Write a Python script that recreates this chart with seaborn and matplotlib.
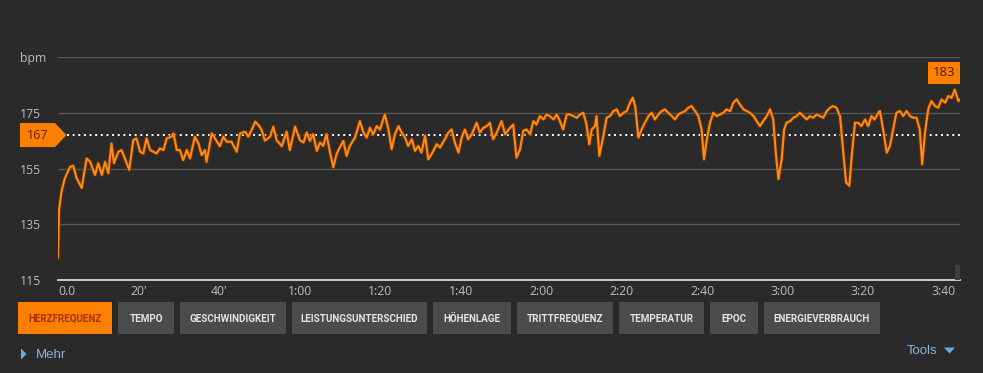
import matplotlib
matplotlib.use("Agg")
import matplotlib.pyplot as plt
import matplotlib.patheffects as pe
from matplotlib.patches import Polygon, Rectangle
from matplotlib.transforms import Affine2D, blended_transform_factory
import numpy as np
import pandas as pd
import seaborn as sns

# ---------------- data ----------------
minutes = [0.0, 0.25, 0.9, 1.7, 3.0, 3.8, 4.6, 5.9, 7.1, 8.0, 9.2, 10.0, 10.9, 11.7, 12.5, 13.3,
           13.9, 15.0, 15.8, 16.6, 17.7, 18.7, 19.5, 20.4, 21.2, 22.0, 22.9, 23.7, 24.5, 25.3,
           26.2, 27.0, 28.2, 28.7, 29.5, 30.3, 31.1, 32.0, 32.8, 34.0, 34.9, 35.7, 36.5, 36.9,
           38.2, 39.0, 40.2, 41.1, 41.9, 43.1, 44.4, 45.2, 46.5, 47.3, 48.1, 49.0, 49.8, 50.6,
           51.4, 52.7, 53.5, 54.3, 55.6, 56.8, 57.6, 58.9, 60.1,
           61.0, 61.8, 62.6, 63.4, 64.3, 65.1, 65.9, 66.7, 67.6, 68.4, 69.2, 70.0, 70.9, 71.7,
           72.5, 73.8, 75.0, 75.9, 76.7, 77.5, 78.3, 79.2, 80.0, 81.2, 82.1, 82.9, 83.7, 84.6,
           85.4, 86.2, 87.0, 87.9, 88.7, 89.5, 90.3, 91.2, 92.0, 92.8, 94.1, 94.9, 96.1, 97.0,
           97.8, 98.6, 99.5, 100.3, 101.1, 101.9, 102.8, 104.0, 104.8, 105.7, 106.5, 107.3,
           108.1, 109.0, 110.2, 111.1, 112.3, 113.1, 113.9, 114.8, 115.6, 116.4, 117.3, 118.1,
           118.9, 119.7, 120.6, 121.4,
           122.2, 123.1, 123.9, 124.7, 125.5, 126.4, 127.2, 128.0, 128.9, 129.7, 130.5, 131.3,
           132.0, 132.6, 133.4, 133.8, 134.5, 135.5, 136.3, 137.1, 138.0, 138.8, 139.6, 140.5,
           141.3, 142.1, 142.8, 143.4, 144.2, 145.0, 145.8, 146.7, 147.5, 148.3, 149.2, 150.0,
           150.8, 151.6, 152.5, 153.3, 154.1, 154.9, 155.8, 156.6, 157.4, 158.3, 159.1, 159.9,
           160.5, 161.2, 162.0, 162.8, 163.6, 164.5, 165.3, 166.1, 167.0, 167.8, 168.6, 169.4,
           170.3, 171.1, 171.9, 172.8, 173.6, 174.4, 175.2, 176.1, 176.9, 177.7, 178.4, 179.0,
           179.8, 180.4, 181.0, 181.9, 182.7, 183.5, 184.3, 185.2, 186.0, 186.8, 187.6, 188.5,
           189.3, 190.1, 191.0, 191.8, 192.6, 193.4, 194.3, 195.1, 195.8, 196.6, 197.2, 198.0,
           198.8, 199.6, 200.5, 201.3, 202.1, 202.9, 203.8, 204.2, 205.0, 205.9, 206.7, 207.5,
           208.3, 209.2, 210.0, 210.8, 211.7, 212.5, 213.3, 214.1, 214.7, 215.4, 216.2, 217.0,
           217.9, 218.7, 219.5, 220.4, 221.2, 222.0, 222.8, 223.7, 224.1]
bpm = [123.0, 140.0, 147.0, 151.5, 155.6, 156.0, 151.6, 148.0, 158.6, 157.4, 152.7, 156.9, 152.7,
       157.4, 153.3, 164.0, 156.9, 161.0, 161.6, 158.6, 154.5, 165.2, 165.8, 161.0, 160.4, 165.8,
       161.6, 161.0, 160.4, 162.2, 161.6, 165.8, 166.4, 167.6, 161.6, 161.6, 158.0, 161.6, 158.6,
       166.4, 164.0, 159.8, 161.6, 157.4, 167.6, 165.8, 163.0, 166.4, 164.6, 164.6, 161.0, 167.6,
       168.2, 166.4, 168.8, 171.8, 170.6, 168.8, 165.0, 166.4, 170.0, 165.2, 163.0, 168.2, 161.6,
       170.0, 165.2,
       164.3, 167.9, 164.9, 167.3, 161.3, 164.3, 163.1, 167.3, 160.7, 155.4, 160.1, 162.5, 164.9,
       159.5, 163.1, 166.1, 172.0, 167.9, 166.1, 169.6, 167.3, 170.2, 169.0, 174.4, 169.0, 161.9,
       167.3, 170.2, 167.9, 166.1, 163.1, 165.5, 161.3, 163.1, 160.7, 166.7, 158.3, 160.1, 163.7,
       162.5, 165.5, 167.9, 169.0, 164.3, 160.7, 166.1, 169.0, 165.5, 167.3, 171.4, 167.9, 169.6,
       170.2, 171.4, 165.5, 167.9, 172.0, 167.3, 169.6, 170.8, 158.9, 161.9, 168.5, 169.0, 167.3,
       172.0, 170.8, 173.8, 172.6, 174.4,
       173.8, 172.6, 174.4, 172.0, 169.0, 174.4, 174.4, 173.8, 173.2, 174.4, 175.0, 170.8, 163.7,
       169.0, 170.2, 173.8, 159.5, 166.7, 173.2, 173.8, 175.6, 176.2, 173.8, 175.0, 175.6, 178.6,
       180.4, 177.4, 166.1, 169.0, 171.4, 173.8, 175.0, 172.6, 174.4, 175.6, 176.2, 175.0, 173.8,
       172.6, 174.4, 175.0, 175.6, 176.8, 177.4, 175.6, 173.8, 169.0, 158.3, 165.5, 171.4, 175.0,
       173.8, 174.4, 175.0, 176.2, 175.6, 178.6, 179.8, 178.0, 176.2, 175.6, 175.0, 173.8, 172.0,
       170.2, 172.0, 173.8, 176.2, 172.6, 159.5, 151.2, 158.3, 169.0, 171.4, 172.0, 173.2, 173.8,
       175.0, 173.8, 172.6, 173.8, 173.2, 174.4, 173.8, 173.2, 175.6, 176.8, 177.4, 176.8, 173.8,
       160.7, 150.0, 148.8, 159.5, 171.4, 171.4, 170.2, 172.6, 170.2, 173.8, 172.6, 175.0, 175.6,
       169.0, 160.7, 163.1, 169.0, 175.0, 175.6, 173.8, 175.6, 173.8, 173.2, 173.2, 169.0, 156.5,
       167.9, 176.2, 179.2, 177.4, 176.8, 179.8, 178.6, 181.0, 180.4, 183.3, 179.2, 179.8]

y_ticks = [115, 135, 155, 175, 195]
y_labels = ["115", "135", "155", "175", "bpm"]
x_ticks = [0, 20, 40, 60, 80, 100, 120, 140, 160, 180, 200, 220]
x_labels = ["0.0", "20'", "40'", "1:00", "1:20", "1:40", "2:00", "2:20", "2:40", "3:00", "3:20", "3:40"]
avg_bpm = 167
buttons = ["HERZFREQUENZ", "TEMPO", "GESCHWINDIGKEIT", "LEISTUNGSUNTERSCHIED", "HÖHENLAGE",
           "TRITTFREQUENZ", "TEMPERATUR", "EPOC", "ENERGIEVERBRAUCH"]
more_label = "Mehr"
tools_label = "Tools"

# ---------------- style ----------------
BG = "#2a2a2a"
ORANGE = "#ff8a14"
GRID = "#575757"
TICK = "#bcbcbc"
BTN = "#4b4b4b"
LINK = "#86b6da"

sns.set_theme(style="dark", rc={"axes.facecolor": BG, "figure.facecolor": BG})
plt.rcParams["font.family"] = ["Open Sans", "DejaVu Sans"]

W, H = 983, 373
fig = plt.figure(figsize=(W / 100, H / 100), dpi=100)
fig.patch.set_facecolor(BG)
# pixel coordinates with origin at top-left
px = Affine2D().scale(1 / W, -1 / H).translate(0, 1) + fig.transFigure

L, R, T, B = 58, 960, 57, 280
ax = fig.add_axes([L / W, 1 - B / H, (R - L) / W, (B - T) / H])
ax.set_facecolor(BG)
ax.set_axisbelow(True)

df = pd.DataFrame({"minutes": minutes, "bpm": bpm})

ax.axhline(avg_bpm, xmin=(67 - L) / (R - L), color="white", lw=1.4,
           ls=(0, (1, 1.9)), zorder=2)
sns.lineplot(data=df, x="minutes", y="bpm", ax=ax, color=ORANGE, lw=1.5,
             estimator=None, sort=False, zorder=3,
             path_effects=[pe.Stroke(linewidth=2.9, foreground="#6a3306", alpha=0.85),
                           pe.Normal()])

ax.set_xlim(0, 224.1)
ax.set_ylim(115, 195)
ax.set_yticks(y_ticks)
ax.set_yticklabels(y_labels)
ax.set_xticks(x_ticks)
ax.set_xticklabels(x_labels)
ax.set_xlabel("")
ax.set_ylabel("")
ax.grid(axis="y", color=GRID, lw=1)
ax.grid(axis="x", visible=False)
for s in ["top", "right", "left"]:
    ax.spines[s].set_visible(False)
ax.spines["bottom"].set_color("#d6d6d6")
ax.spines["bottom"].set_linewidth(1.3)
ax.tick_params(axis="y", length=0, pad=(L - 20) * 0.72, labelsize=8.8, labelcolor=TICK)
for t in ax.get_yticklabels():
    t.set_ha("left")
ax.tick_params(axis="x", length=0, pad=3.5, labelsize=8.8, labelcolor=TICK)
ax.get_xticklabels()[0].set_ha("left")

# average marker (pentagon tag) at the left
bt = blended_transform_factory(px, ax.transData)
hh = 12 / ((B - T) / (195 - 115))
tag = Polygon([(20, avg_bpm - hh), (55, avg_bpm - hh), (66.5, avg_bpm),
               (55, avg_bpm + hh), (20, avg_bpm + hh)], closed=True,
              transform=bt, facecolor="#ff7f00", edgecolor="none", clip_on=False, zorder=5)
ax.add_patch(tag)
ax.text(37.5, avg_bpm, str(avg_bpm), transform=bt, ha="center", va="center",
        fontsize=9, color="#5a2000", zorder=6, clip_on=False)

# max label
i_max = int(np.argmax(bpm))
ax.annotate(str(int(bpm[i_max])), xy=(minutes[i_max], bpm[i_max]), xytext=(-7.5, 12),
            textcoords="offset points", ha="center", va="center", fontsize=9.5,
            color="#4a1a00", annotation_clip=False, zorder=6,
            bbox=dict(boxstyle="square,pad=0.36", fc="#ff7f00", ec="none"))

# small handle at the bottom right
fig.add_artist(Rectangle((955, 265), 5, 15, transform=px, facecolor="#3e3e3e", edgecolor="none"))

# buttons
btn_edges = [(18, 112), (118, 174), (180, 286), (292, 427), (433, 511),
             (517, 613), (619, 704), (710, 758), (764, 880)]
btn_top, btn_bot = 302, 334
texts = []
for i, (label, (x0, x1)) in enumerate(zip(buttons, btn_edges)):
    active = i == 0
    fig.add_artist(Rectangle((x0, btn_top), x1 - x0, btn_bot - btn_top, transform=px,
                             facecolor="#ff7f00" if active else BTN, edgecolor="none"))
    t = fig.text((x0 + x1) / 2, (btn_top + btn_bot) / 2 + 0.5, label, transform=px,
                 ha="center", va="center", fontsize=9.5, fontweight="bold",
                 family=["Liberation Sans Narrow", "Roboto", "DejaVu Sans"],
                 color="#a83000" if active else "#e4e4e4")
    texts.append((t, x1 - x0))

fig.canvas.draw()
r = fig.canvas.get_renderer()
common = min(9.5 * min(1.0, (w - 16) / t.get_window_extent(r).width) for t, w in texts)
for t, w in texts:
    t.set_fontsize(common)

# Mehr / Tools links
fig.add_artist(Polygon([(21, 348.5), (21, 359.5), (26.5, 354)], closed=True, transform=px,
                       facecolor="#5fb0e6", edgecolor="none"))
fig.text(36, 355, more_label, transform=px, ha="left", va="center", fontsize=9.5,
         color=LINK, family=["Liberation Sans", "DejaVu Sans"])
fig.text(907, 350.5, tools_label, transform=px, ha="left", va="center", fontsize=9.5,
         color=LINK, family=["Liberation Sans", "DejaVu Sans"])
fig.add_artist(Polygon([(944, 347.5), (955, 347.5), (949.5, 353.5)], closed=True, transform=px,
                       facecolor="#5fb0e6", edgecolor="none"))

fig.savefig("out.png", dpi=100, facecolor=BG)
